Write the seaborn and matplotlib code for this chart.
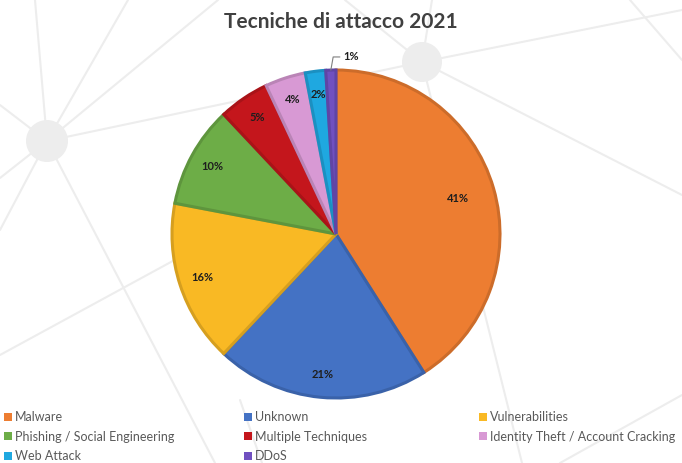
import matplotlib
matplotlib.use("Agg")
import matplotlib.pyplot as plt
import matplotlib.colors as mcolors
from matplotlib.lines import Line2D
from matplotlib.patches import Patch, Ellipse
import numpy as np
import seaborn as sns

categories = ["Malware", "Unknown", "Vulnerabilities", "Phishing / Social Engineering",
              "Multiple Techniques", "Identity Theft / Account Cracking", "Web Attack", "DDoS"]
values = [41, 21, 16, 10, 5, 4, 2, 1]
colors = ["#ED7D31", "#4472C4", "#F9B924", "#6DAD47", "#C4161C", "#D899D4", "#1FA8E0", "#7050C0"]
title = "Tecniche di attacco 2021"

sns.set_theme(style="white")
plt.rcParams['font.family'] = ['Lato', 'DejaVu Sans']

W, H = 682, 463
fig = plt.figure(figsize=(W / 100, H / 100), dpi=100)
fig.patch.set_facecolor("white")

def fx(x):
    return x / W

def fy(y):
    return 1 - y / H

# background network decoration
bg = "#EDEDED"
segments = [
    ((47, 141), (35, 0)), ((47, 141), (128, 0)), ((47, 141), (218, 0)),
    ((47, 141), (0, 105)), ((47, 141), (0, 178)), ((47, 141), (0, 230)),
    ((47, 141), (422, 62)), ((47, 141), (215, 463)),
    ((0, 355), (340, 170)),
    ((422, 62), (682, 195)), ((422, 62), (522, 463)), ((422, 62), (345, 0)),
    ((422, 62), (432, 0)), ((422, 62), (682, 10)),
    ((630, 0), (682, 60)), ((240, 400), (262, 463)), ((560, 463), (682, 395)),
]
for (x0, y0), (x1, y1) in segments:
    fig.add_artist(Line2D([fx(x0), fx(x1)], [fy(y0), fy(y1)], transform=fig.transFigure,
                          color=bg, lw=1.5, zorder=0))
for ccx, ccy, r in [(47, 141, 21), (422, 62, 20)]:
    fig.add_artist(Ellipse((fx(ccx), fy(ccy)), 2 * r / W, 2 * r / H, transform=fig.transFigure,
                           facecolor=bg, edgecolor="none", zorder=0))

# pie
cx, cy, R = 336, 234, 164
ax = fig.add_axes([fx(cx - R), fy(cy + R), 2 * R / W, 2 * R / H])
ax.set_facecolor("none")
ax.patch.set_alpha(0)

edge = [tuple(c * 0.86 for c in mcolors.to_rgb(col)) for col in colors]
wedges, texts, autotexts = ax.pie(
    values, colors=colors, startangle=90, counterclock=False,
    autopct=lambda p: f"{round(p):d}%", pctdistance=0.86,
    wedgeprops=dict(linewidth=2.2),
    textprops=dict(fontsize=8, fontweight="bold", color="#1E1E1E"),
)
for w, e in zip(wedges, edge):
    w.set_edgecolor(e)
ax.set_aspect("equal")
ax.set_xlim(-1, 1)
ax.set_ylim(-1, 1)

# move biggest label a little inward like the original
autotexts[0].set_position(tuple(v * 0.9 for v in autotexts[0].get_position()))

# DDoS label outside with a leader line
w = wedges[-1]
ang = np.deg2rad((w.theta1 + w.theta2) / 2)
x0, y0 = np.cos(ang), np.sin(ang)
autotexts[-1].set_visible(False)
ax.annotate(autotexts[-1].get_text(), xy=(x0, y0), xytext=(x0 + 0.075, y0 + 0.08),
            fontsize=8, fontweight="bold", color="#1E1E1E", ha="left", va="center",
            arrowprops=dict(arrowstyle="-", color="#7F7F7F", lw=0.8,
                            connectionstyle="angle,angleA=0,angleB=80,rad=0",
                            shrinkA=0, shrinkB=0),
            annotation_clip=False)

fig.text(0.5, fy(22), title, ha="center", va="center", fontsize=15, fontweight="bold",
         color="#404040")

# legend in three columns
cols = [[0, 3, 6], [1, 4, 7], [2, 5]]
col_x = [4, 244, 479]
for idxs, xpx in zip(cols, col_x):
    handles = [Patch(facecolor=colors[i], edgecolor="none") for i in idxs]
    labels = [categories[i] for i in idxs]
    leg = fig.legend(handles, labels, loc="upper left", bbox_to_anchor=(fx(xpx), fy(411)),
                     frameon=False, fontsize=9, handlelength=0.6, handleheight=0.6,
                     handletextpad=0.25, labelspacing=0.62, borderpad=0, borderaxespad=0)
    for t in leg.get_texts():
        t.set_color("#595959")

fig.savefig("out.png", dpi=100, facecolor="white")
